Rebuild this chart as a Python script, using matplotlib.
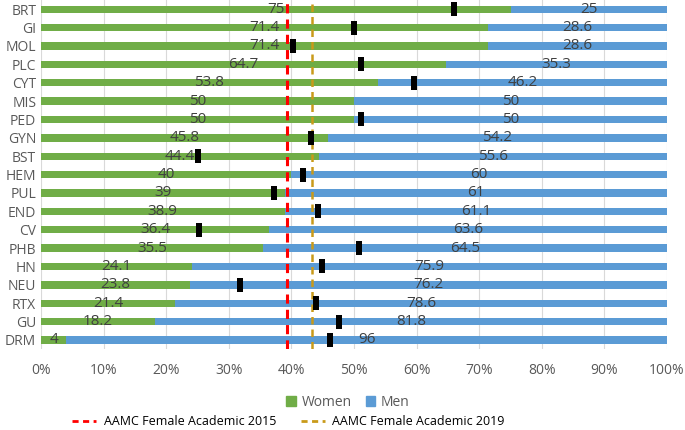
import numpy as np
import matplotlib.pyplot as plt
from matplotlib.lines import Line2D
from matplotlib.patches import Patch

plt.rcParams['font.family'] = ['Open Sans', 'DejaVu Sans']

# data, top row first
cats = ['BRT', 'GI', 'MOL', 'PLC', 'CYT', 'MIS', 'PED', 'GYN', 'BST', 'HEM',
        'PUL', 'END', 'CV', 'PHB', 'HN', 'NEU', 'RTX', 'GU', 'DRM']
women = [75, 71.4, 71.4, 64.7, 53.8, 50, 50, 45.8, 44.4, 40,
         39, 38.9, 36.4, 35.5, 24.1, 23.8, 21.4, 18.2, 4]
men = [25, 28.6, 28.6, 35.3, 46.2, 50, 50, 54.2, 55.6, 60,
       61, 61.1, 63.6, 64.5, 75.9, 76.2, 78.6, 81.8, 96]
# black markers (None = no marker)
marks = [66.0, 50.0, 40.3, 51.1, 59.5, None, 51.1, 43.2, 25.1, 41.8,
         37.2, 44.2, 25.3, 50.8, 44.9, 31.8, 43.9, 47.6, 46.2]
aamc_2015 = 39.3
aamc_2019 = 43.3

green = '#70AD47'
blue = '#5B9BD5'
txt = '#404040'

fig = plt.figure(figsize=(6.85, 4.3), dpi=100)
ax = fig.add_axes([0.06, 0.188, 0.9137, 0.812])

y = np.arange(len(cats))
w = np.array(women) / 100
m = np.array(men) / 100
ax.barh(y, w, height=0.4, color=green, zorder=2)
ax.barh(y, m, left=w, height=0.4, color=blue, zorder=2)

for i in range(len(cats)):
    ax.text(w[i] / 2, y[i], f'{women[i]:g}', ha='center', va='center',
            fontsize=11, color=txt, zorder=4)
    ax.text(w[i] + m[i] / 2, y[i], f'{men[i]:g}', ha='center', va='center',
            fontsize=11, color=txt, zorder=4)

ax.axvline(aamc_2015 / 100, color='#FF0000', lw=2.2, ls=(0, (3, 2)), zorder=3)
ax.axvline(aamc_2019 / 100, color='#C99A1A', lw=1.8, ls=(0, (3, 2)), zorder=3)

rect = [(-1, -2.4), (1, -2.4), (1, 2.4), (-1, 2.4), (-1, -2.4)]
mx = [v / 100 for v in marks if v is not None]
my = [y[i] for i, v in enumerate(marks) if v is not None]
ax.scatter(mx, my, marker=rect, s=100, color='black', zorder=5, linewidths=0)

ax.set_xlim(0, 1)
ax.set_ylim(len(cats) - 0.5, -0.5)
ax.set_yticks(y)
ax.set_yticklabels(cats)
ax.set_xticks(np.linspace(0, 1, 11))
ax.set_xticklabels([f'{int(v)}%' for v in np.linspace(0, 100, 11)])
ax.tick_params(length=0, labelsize=10, labelcolor='#595959')
ax.tick_params(axis='x', pad=10)
ax.grid(axis='x', color='#D9D9D9', lw=0.8, zorder=0)
for s in ax.spines.values():
    s.set_visible(False)

h1 = [Patch(color=green, label='Women'), Patch(color=blue, label='Men')]
fig.legend(handles=h1, loc='center', bbox_to_anchor=(0.508, 0.065), ncol=2,
           frameon=False, fontsize=10, handlelength=0.7, handleheight=0.7,
           columnspacing=1.0, handletextpad=0.4, labelcolor='#595959')
h2 = [Line2D([], [], color='#FF0000', lw=2, ls=(0, (2.2, 1.6)), label='AAMC Female Academic 2015'),
      Line2D([], [], color='#C99A1A', lw=2, ls=(0, (2.2, 1.6)), label='AAMC Female Academic 2019')]
fig.legend(handles=h2, loc='center', bbox_to_anchor=(0.421, 0.02), ncol=2,
           frameon=False, fontsize=9, handlelength=1.9, columnspacing=2.0,
           handletextpad=0.6, labelcolor='black')

fig.savefig('out.png', dpi=100)
